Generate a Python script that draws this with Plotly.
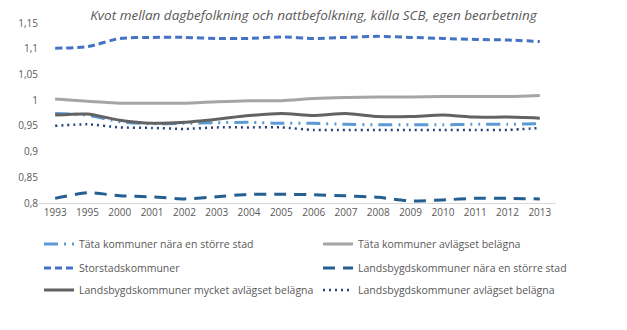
import plotly.graph_objects as go

years = ["1993", "1995", "2000", "2001", "2002", "2003", "2004", "2005", "2006",
         "2007", "2008", "2009", "2010", "2011", "2012", "2013"]

tata_nara = [0.974, 0.971, 0.958, 0.954, 0.955, 0.956, 0.957, 0.955, 0.955,
             0.953, 0.952, 0.952, 0.952, 0.953, 0.953, 0.954]
tata_avlagset = [1.002, 0.998, 0.994, 0.994, 0.994, 0.997, 0.999, 0.999, 1.003,
                 1.005, 1.006, 1.006, 1.007, 1.007, 1.007, 1.009]
storstad = [1.101, 1.104, 1.120, 1.122, 1.122, 1.120, 1.120, 1.123, 1.120,
            1.122, 1.124, 1.122, 1.120, 1.118, 1.117, 1.114]
lands_nara = [0.809, 0.820, 0.814, 0.812, 0.808, 0.812, 0.817, 0.817, 0.816,
              0.814, 0.811, 0.804, 0.806, 0.809, 0.809, 0.808]
lands_mycket = [0.971, 0.973, 0.961, 0.955, 0.957, 0.963, 0.970, 0.974, 0.970,
                0.974, 0.968, 0.968, 0.971, 0.967, 0.967, 0.965]
lands_avlagset = [0.950, 0.953, 0.947, 0.946, 0.944, 0.947, 0.947, 0.947, 0.942,
                  0.942, 0.942, 0.942, 0.942, 0.942, 0.942, 0.946]

names = ["Täta kommuner nära en större stad", "Täta kommuner avlägset belägna",
         "Storstadskommuner", "Landsbygdskommuner nära en större stad",
         "Landsbygdskommuner mycket avlägset belägna", "Landsbygdskommuner avlägset belägna"]

yticks = [0.8, 0.85, 0.9, 0.95, 1.0, 1.05, 1.1, 1.15]
ytick_text = ["0,8", "0,85", "0,9", "0,95", "1", "1,05", "1,1", "1,15"]

series = [tata_nara, tata_avlagset, storstad, lands_nara, lands_mycket, lands_avlagset]
styles = [
    dict(color="#5B9BD5", width=3, dash="14px,6px,2px,6px,2px,6px"),
    dict(color="#A5A5A5", width=3, dash="solid"),
    dict(color="#4472C4", width=3, dash="7px,4px"),
    dict(color="#255E91", width=3, dash="12px,8px"),
    dict(color="#636363", width=3, dash="solid"),
    dict(color="#264478", width=2.5, dash="2px,4px"),
]

# legend grid: 3 rows x 2 columns (paper coordinates)
col_x = [0.0, 0.5397]
row_y = [-0.228, -0.361, -0.483]

fig = go.Figure()
layout_legends = {}
for i, (name, vals, st) in enumerate(zip(names, series, styles)):
    lid = "legend" if i == 0 else f"legend{i + 1}"
    fig.add_trace(go.Scatter(x=years, y=vals, name=name, mode="lines", legend=lid,
                             line=dict(shape="spline", smoothing=0.6, **st)))
    layout_legends[lid] = dict(orientation="h", x=col_x[i % 2], xanchor="left",
                               y=row_y[i // 2], yanchor="middle",
                               font=dict(size=10.5, color="#595959"),
                               bgcolor="rgba(0,0,0,0)")

fig.update_layout(
    width=627, height=330,
    margin=dict(l=39, r=71, t=23, b=127),
    paper_bgcolor="white", plot_bgcolor="white",
    font=dict(family="Open Sans", color="#595959", size=10),
    title=dict(text="<i>Kvot mellan dagbefolkning och nattbefolkning, källa SCB, egen bearbetning</i>",
               x=0.5, xanchor="center", y=0.955, yanchor="middle",
               font=dict(size=13.5, color="#595959", family="Open Sans")),
    xaxis=dict(type="category", range=[-0.5, 15.5], showgrid=False, showline=True,
               linecolor="#D9D9D9", linewidth=1, ticks="",
               tickfont=dict(size=10, color="#595959")),
    yaxis=dict(range=[0.8, 1.15], tickvals=yticks, ticktext=ytick_text, showgrid=False,
               zeroline=False, showline=False, ticks="", tickfont=dict(size=10, color="#595959")),
    showlegend=True,
    **layout_legends,
)

fig.write_html("out.html")
